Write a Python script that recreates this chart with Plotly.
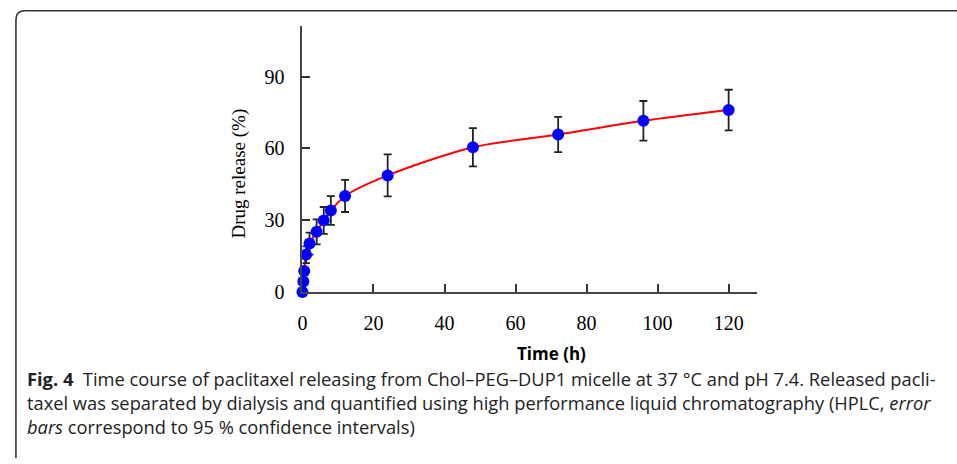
import plotly.graph_objects as go

W, H = 957, 464

# Data
time_h = [0, 0.25, 0.5, 1, 2, 4, 6, 8, 12, 24, 48, 72, 96, 120]
release_pct = [0, 4.4, 8.7, 15.5, 20.2, 25.1, 29.9, 34.0, 40.1, 48.7, 60.5, 65.8, 71.5, 76.0]
ci95 = [0, 0, 0, 3.5, 4.6, 5.2, 5.6, 6.0, 6.7, 8.8, 8.0, 7.4, 8.3, 8.5]

x_ticks = [0, 20, 40, 60, 80, 100, 120]
y_ticks = [0, 30, 60, 90]

caption_lines = [
    "<b>Fig. 4</b>  Time course of paclitaxel releasing from Chol–PEG–DUP1 micelle at 37 °C and pH 7.4. Released pacli-",
    "taxel was separated by dialysis and quantified using high performance liquid chromatography (HPLC, <i>error</i>",
    "<i>bars</i> correspond to 95 % confidence intervals)",
]

def px_x(p):
    return p / W

def px_y(p):
    return 1 - p / H

fig = go.Figure()

# fitted curve (smooth line through the measured points)
fig.add_trace(go.Scatter(
    x=time_h, y=release_pct, mode="lines",
    line=dict(color="#ff0000", width=2, shape="spline", smoothing=0.8),
    cliponaxis=False, showlegend=False, hoverinfo="skip",
))

# data points with error bars
fig.add_trace(go.Scatter(
    x=time_h, y=release_pct, mode="markers",
    marker=dict(color="#0000ff", size=12),
    error_y=dict(type="data", array=ci95, visible=True, color="#222222", thickness=1.8, width=4),
    cliponaxis=False, showlegend=False,
))

fig.update_layout(
    width=W, height=H,
    margin=dict(l=0, r=0, t=0, b=0),
    paper_bgcolor="white", plot_bgcolor="white",
    xaxis=dict(
        domain=[px_x(299), px_x(756)],
        range=[0, 128],
        tickvals=x_ticks,
        ticks="inside", ticklen=8, tickwidth=2, tickcolor="#333333",
        showline=True, linecolor="#444444", linewidth=2,
        showgrid=False, zeroline=False,
        tickfont=dict(family="Liberation Serif", size=20, color="black"),
        ticklabelstandoff=12,
        anchor="y",
    ),
    yaxis=dict(
        domain=[px_y(299), px_y(27)],
        range=[0, 111],
        tickvals=y_ticks,
        ticks="inside", ticklen=8, tickwidth=2, tickcolor="#333333",
        showline=True, linecolor="#444444", linewidth=2,
        showgrid=False, zeroline=False,
        tickfont=dict(family="Liberation Serif", size=20, color="black"),
        ticklabelstandoff=12,
        anchor="x",
    ),
    font=dict(family="Open Sans"),
)

annotations = [
    dict(text="Drug release (%)", x=px_x(235), y=px_y(178), xref="paper", yref="paper",
         textangle=-90, showarrow=False, xanchor="center", yanchor="middle",
         font=dict(family="Liberation Serif", size=19, color="black")),
    dict(text="<b>Time (h)</b>", x=px_x(549), y=px_y(362), xref="paper", yref="paper",
         showarrow=False, xanchor="center", yanchor="middle",
         font=dict(family="Open Sans", size=17, color="black")),
    dict(text="<br>".join(caption_lines), x=px_x(20), y=px_y(412), xref="paper", yref="paper",
         showarrow=False, xanchor="left", yanchor="middle", align="left",
         font=dict(family="Open Sans", size=18.3, color="#222222")),
]
fig.update_layout(annotations=annotations)

# rounded frame (top-left corner)
r = 9
x0, y0 = 11, 11
path = (f"M {px_x(x0)},{px_y(H + 5)} L {px_x(x0)},{px_y(y0 + r)} "
        f"Q {px_x(x0)},{px_y(y0)} {px_x(x0 + r)},{px_y(y0)} L {px_x(W + 5)},{px_y(y0)}")
fig.add_shape(type="path", path=path, xref="paper", yref="paper",
              line=dict(color="#333333", width=1.6))

fig.write_html("out.html",
               config={"displayModeBar": False},
               post_script="document.body.style.margin='0';document.body.style.overflow='hidden';")
